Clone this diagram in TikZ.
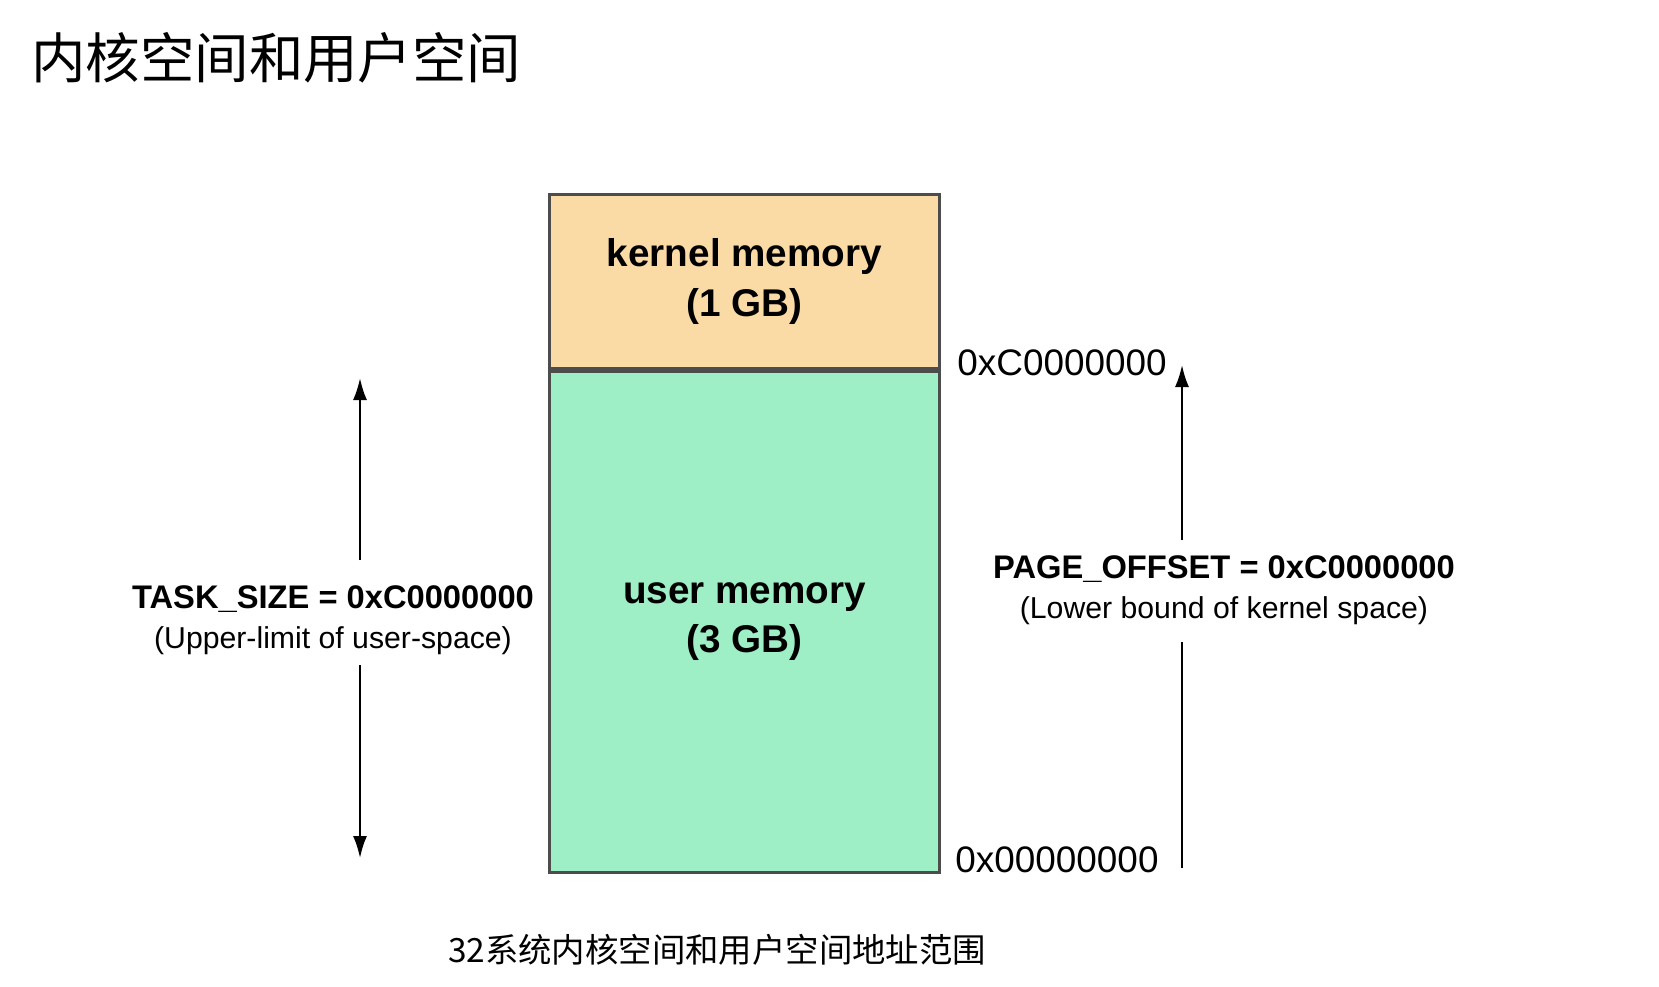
\documentclass[tikz,border=0pt]{standalone}
\usepackage{fontspec}
\setmainfont{Liberation Sans}
\newfontfamily\cjk{Noto Sans CJK SC}
\usetikzlibrary{arrows.meta, positioning}
\definecolor{kernelfill}{HTML}{FADBA6}
\definecolor{userfill}{HTML}{9EEEC6}
\begin{document}
\begin{tikzpicture}[
    thick,
    node distance={0mm},
    block/.style={draw=black!70, line width=0.8pt, minimum width=3.9cm, align=center, font=\fontsize{11}{14}\selectfont\bfseries, inner sep=0pt},
    addr/.style={font=\fontsize{10.5}{12}\selectfont, anchor=west, inner sep=0pt},
    span/.style={align=center, fill=white, inner sep=2pt, font=\fontsize{9.3}{11.5}\selectfont},
    dim/.style={line width=0.6pt, -{Latex[length=2.2mm, width=1.4mm]}}
]
\useasboundingbox (0,0) rectangle (16.59,-9.86);

\node[anchor=west, font=\cjk\fontsize{15.5}{18}\selectfont] (title) at (0.18,-0.58) {内核空间和用户空间};

\node[block, fill=kernelfill, minimum height=1.74cm, anchor=north west] (kernel) at (5.48,-1.93) {kernel memory\\(1 GB)};
\node[block, fill=userfill, minimum height=5.01cm, below=of kernel] (user) {user memory\\(3 GB)};

\node[addr] (hi) at (9.56,-3.63) {0xC0000000};
\node[addr] (lo) at (9.54,-8.6) {0x00000000};

% left span
\coordinate (ltop) at (3.6,-3.78);
\coordinate (lbot) at (3.6,-8.58);
\node[span] (task) at (3.33,-6.2) {\textbf{TASK\_SIZE = 0xC0000000}\\{\fontsize{8.6}{10}\selectfont(Upper-limit of user-space)}};
\draw[dim] (3.6,-5.6) -- (ltop);
\draw[dim] (3.6,-6.65) -- (lbot);

% right span
\coordinate (rtop) at (11.82,-3.65);
\coordinate (rbot) at (11.82,-8.68);
\node[span] (page) at (12.24,-5.9) {\textbf{PAGE\_OFFSET = 0xC0000000}\\{\fontsize{8.6}{10}\selectfont(Lower bound of kernel space)}};
\draw[dim] (11.82,-5.4) -- (rtop);
\draw[line width=0.6pt] (11.82,-6.42) -- (rbot);

\node[font=\cjk\fontsize{9.5}{11}\selectfont] (caption) at (7.17,-9.5) {32系统内核空间和用户空间地址范围};
\end{tikzpicture}
\end{document}
